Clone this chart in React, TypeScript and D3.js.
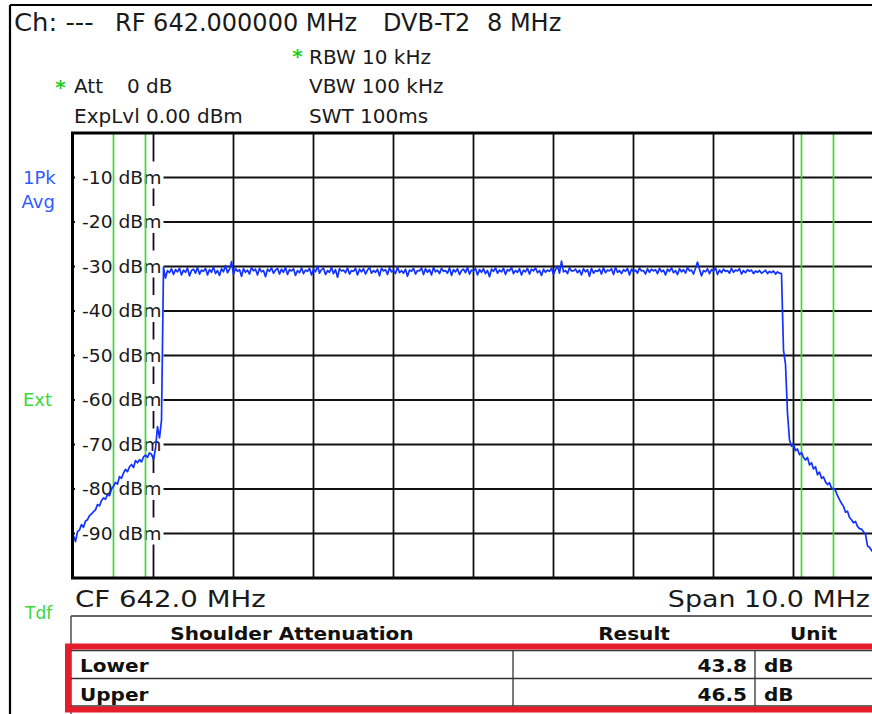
import React from 'react';
import * as d3 from 'd3';

const W = 872;
const H = 714;

// ---- data ----
const spanStartMHz = 637.0;
const spanEndMHz = 647.0;
const traceStepMHz = 0.025;
const refLevels = [0, -100];
const yTicks = [-10, -20, -30, -40, -50, -60, -70, -80, -90];
const yTickLabels = ['-10 dBm', '-20 dBm', '-30 dBm', '-40 dBm', '-50 dBm', '-60 dBm', '-70 dBm', '-80 dBm', '-90 dBm'];
const xGridMHz = [638, 639, 640, 641, 642, 643, 644, 645, 646];
const markerMHz = [637.5, 637.9, 646.1, 646.5];

const lowerSkirt = [
  -90.5, -91.8, -89.6, -89.2, -88.0, -88.6, -87.2, -86.9, -86.0, -85.6,
  -85.1, -84.7, -83.5, -83.8, -82.6, -82.0, -82.3, -81.2, -81.5, -80.0,
  -79.4, -78.5, -78.9, -77.2, -77.6, -76.4, -75.6, -76.1, -75.0, -74.5,
  -75.2, -73.6, -74.1, -73.4, -73.9, -72.8, -72.4, -72.9, -71.9, -72.2,
  -73.4, -70.9, -66.0, -68.5, -64.6,
];
const inBand = [
  -30.2, -32.6, -30.9, -31.4, -30.5, -31.8, -30.7, -31.2, -30.4, -31.9,
  -30.8, -31.3, -30.3, -32.1, -30.9, -30.6, -31.5, -30.2, -31.7, -30.8,
  -31.1, -30.4, -31.9, -30.7, -31.3, -30.1, -31.6, -30.9, -32.0, -30.5,
  -31.2, -29.8, -31.4, -30.6, -28.9, -31.8, -30.4, -31.1, -30.7, -32.2,
  -30.5, -31.3, -30.8, -31.7, -30.2, -31.0, -30.6, -31.9, -30.4, -31.2,
  -30.9, -32.3, -30.6, -31.1, -30.3, -31.5, -30.8, -30.4, -31.7, -30.6,
  -31.3, -30.2, -31.8, -30.7, -31.0, -30.5, -32.0, -30.9, -31.4, -30.3,
  -31.6, -30.8, -31.1, -30.4, -31.9, -30.6, -31.2, -29.9, -31.5, -30.7,
  -30.4, -31.8, -30.9, -31.3, -30.2, -31.6, -30.7, -32.4, -30.5, -31.0,
  -30.8, -31.4, -30.3, -31.7, -30.9, -31.1, -30.4, -31.9, -30.6, -31.2,
  -30.5, -31.7, -30.8, -30.2, -31.5, -30.9, -31.3, -30.6, -32.1, -30.4,
  -31.0, -30.7, -31.8, -30.3, -31.2, -30.8, -31.6, -30.1, -31.4, -30.9,
  -31.5, -30.6, -32.2, -30.8, -31.1, -30.4, -31.7, -30.9, -31.0, -30.3,
  -31.8, -30.5, -31.3, -30.7, -31.9, -30.2, -31.2, -30.8, -31.6, -30.4,
  -31.1, -30.9, -31.5, -30.3, -32.0, -30.7, -31.2, -30.5, -31.8, -30.9,
  -30.6, -31.4, -30.2, -31.7, -30.8, -31.0, -30.4, -31.9, -30.7, -31.3,
  -30.5, -31.6, -30.9, -32.3, -30.6, -31.1, -30.3, -31.5, -30.8, -31.2,
  -30.4, -31.8, -30.7, -31.0, -30.2, -31.6, -30.9, -31.3, -30.5, -31.9,
  -30.8, -31.2, -30.4, -31.7, -30.6, -31.0, -30.3, -31.4, -30.9, -32.0,
  -30.6, -31.3, -30.8, -31.1, -30.4, -31.8, -30.7, -29.9, -31.5, -28.8,
  -31.2, -30.9, -31.6, -30.3, -31.0, -31.0, -30.6, -31.4, -30.8, -31.9,
  -30.5, -31.2, -30.7, -32.2, -30.4, -31.5, -30.9, -31.1, -30.6, -31.7,
  -30.3, -31.4, -30.8, -31.0, -30.5, -31.8, -30.2, -31.3, -30.9, -31.6,
  -30.7, -31.1, -30.4, -31.9, -30.6, -31.2, -30.8, -31.5, -30.3, -31.0,
  -30.9, -31.7, -30.5, -31.3, -30.6, -31.0, -30.7, -31.6, -30.4, -31.2,
  -30.8, -31.9, -30.6, -31.1, -30.3, -31.4, -30.9, -31.8, -30.5, -31.2,
  -30.7, -31.5, -30.2, -31.0, -30.8, -31.7, -30.4, -29.0, -30.6, -32.1,
  -30.9, -31.2, -30.5, -31.6, -30.7, -31.0, -30.3, -31.8, -30.8, -31.4,
  -30.6, -31.1, -30.9, -31.5, -30.4, -31.3, -30.8, -31.0, -30.5, -31.7,
  -30.9, -31.4, -30.7, -31.1, -30.8, -31.6, -31.0, -31.3, -30.9, -31.5,
  -31.2, -30.8, -31.6, -31.1, -31.4, -31.0, -31.7, -31.2, -31.5, -31.6,
];
const upperSkirt = [
  -48.8, -52.0, -63.0, -69.0, -70.4, -70.0, -71.4, -71.0, -72.3, -71.8,
  -72.9, -73.5, -72.9, -74.6, -74.1, -75.5, -75.0, -76.8, -76.2, -77.6,
  -77.3, -78.4, -79.0, -78.6, -79.8, -79.9, -80.3, -81.5, -82.4, -83.2,
  -83.9, -85.2, -85.0, -86.4, -86.9, -87.6, -87.3, -88.4, -88.9, -89.0,
  -89.6, -90.2, -92.8, -93.1, -93.8, -94.3,
];
const traceLevels = [...lowerSkirt, ...inBand, ...upperSkirt];

const tableHeaders = ['Shoulder Attenuation', 'Result', 'Unit'];
const tableRows = ['Lower', 'Upper'];
const tableResults = ['43.8', '46.5'];
const tableUnits = ['dB', 'dB'];

// ---- layout ----
const PL = 73.5, PR = 873.5, PT = 133, PB = 578;
const FONT = 'DejaVu Sans, Verdana, sans-serif';
const BLUE_TRACE = '#1232ff';
const GREEN = '#3ad83a';

const ST = ({ x, y, sx = 1, children, ...rest }: any) => (
  <text transform={`translate(${x},${y}) scale(${sx},1)`} {...rest}>{children}</text>
);

export default function App() {
  const x = d3.scaleLinear().domain([spanStartMHz, spanEndMHz]).range([PL, PR]);
  const y = d3.scaleLinear().domain(refLevels).range([PT, PB]);
  const line = d3
    .line<number>()
    .x((_, i) => x(spanStartMHz + i * traceStepMHz))
    .y((d) => y(d));
  const tracePath = line(traceLevels) || '';

  const colX = [71, 513, 755, 872];
  const rowY = [616, 650.5, 678.5, 706];

  return (
    <svg
      width={W}
      height={H}
      viewBox={`0 0 ${W} ${H}`}
      style={{ position: 'absolute', left: 0, top: 0, display: 'block', background: '#fff' }}
      fontFamily={FONT}
    >
      <defs>
        <clipPath id="plotClip">
          <rect x={PL} y={PT} width={PR - PL} height={PB - PT} />
        </clipPath>
      </defs>
      <rect x={0} y={0} width={W} height={H} fill="#fff" />

      {/* outer frame */}
      <line x1={10} y1={5} x2={10} y2={H} stroke="#000" strokeWidth={2.2} />
      <line x1={10} y1={5} x2={W} y2={5} stroke="#000" strokeWidth={2.2} />

      {/* header */}
      <g fill="#1a1a1a">
        <ST x={14} y={31} sx={1.08} fontSize={24}>Ch: ---</ST>
        <text x={115} y={31} fontSize={24}>RF 642.000000 MHz</text>
        <text x={383} y={31} fontSize={24}>DVB-T2</text>
        <text x={487} y={31} fontSize={24}>8 MHz</text>

        <text x={309} y={64} fontSize={20}>RBW 10 kHz</text>
        <text x={74} y={93} fontSize={20}>Att</text>
        <text x={127} y={93} fontSize={20}>0 dB</text>
        <text x={309} y={93} fontSize={20}>VBW 100 kHz</text>
        <text x={74} y={123} fontSize={20}>ExpLvl 0.00 dBm</text>
        <text x={309} y={123} fontSize={20}>SWT 100ms</text>
      </g>
      <text x={297.5} y={63} fontSize={20} fontWeight="bold" fill="#22cc22" textAnchor="middle">*</text>
      <text x={60.5} y={94} fontSize={20} fontWeight="bold" fill="#22cc22" textAnchor="middle">*</text>

      {/* side labels */}
      <text x={23} y={184} fontSize={18} fill="#2f5bff">1Pk</text>
      <text x={21.5} y={208} fontSize={18} fill="#2f5bff">Avg</text>
      <text x={23} y={406} fontSize={18} fill={GREEN}>Ext</text>
      <text x={25} y={619} fontSize={17} fill={GREEN}>Tdf</text>

      {/* grid */}
      <g stroke="#111" strokeWidth={1.8}>
        {xGridMHz.map((f) => (
          <line key={`v${f}`} x1={x(f)} x2={x(f)} y1={PT} y2={PB} />
        ))}
        {yTicks.map((v) => (
          <line key={`h${v}`} x1={PL} x2={PR} y1={y(v)} y2={y(v)} />
        ))}
      </g>

      {/* level labels */}
      {yTicks.map((v, i) => (
        <g key={`l${v}`}>
          <rect x={PL + 1.5} y={y(v) - 16} width={163.5 - PL - 1.5} height={27} fill="#fff" />
          <ST x={82} y={y(v) + 6} sx={1.1} fontSize={17} fill="#1a1a1a">{yTickLabels[i]}</ST>
        </g>
      ))}

      {/* markers */}
      <g stroke={GREEN} strokeWidth={1.7}>
        {markerMHz.map((f) => (
          <line key={`m${f}`} x1={x(f)} x2={x(f)} y1={PT} y2={PB} />
        ))}
      </g>

      {/* trace */}
      <g clipPath="url(#plotClip)">
        <path d={tracePath} fill="none" stroke={BLUE_TRACE} strokeWidth={1.7} strokeLinejoin="round" />
      </g>

      {/* plot border */}
      <rect x={PL - 1} y={PT} width={PR - PL + 4} height={PB - PT} fill="none" stroke="#000" strokeWidth={3} />

      {/* bottom axis captions */}
      <ST x={75} y={607} sx={1.2} fontSize={23} fill="#1a1a1a">CF 642.0 MHz</ST>
      <ST x={870} y={607} sx={1.17} fontSize={23} fill="#1a1a1a" textAnchor="end">Span 10.0 MHz</ST>

      {/* table */}
      <g stroke="#333" strokeWidth={1.3}>
        <line x1={colX[0]} x2={W} y1={rowY[0]} y2={rowY[0]} />
        <line x1={colX[0]} x2={colX[0]} y1={rowY[0]} y2={H} />
        <line x1={colX[0]} x2={W} y1={rowY[1]} y2={rowY[1]} />
        <line x1={colX[0]} x2={W} y1={rowY[2]} y2={rowY[2]} />
        <line x1={colX[0]} x2={W} y1={rowY[3]} y2={rowY[3]} />
        <line x1={colX[1]} x2={colX[1]} y1={rowY[1]} y2={rowY[3]} />
        <line x1={colX[2]} x2={colX[2]} y1={rowY[1]} y2={rowY[3]} />
      </g>
      <g fontSize={17} fontWeight="bold" fill="#111">
        <ST x={(colX[0] + colX[1]) / 2} y={640} sx={1.18} textAnchor="middle">{tableHeaders[0]}</ST>
        <ST x={(colX[1] + colX[2]) / 2} y={640} sx={1.18} textAnchor="middle">{tableHeaders[1]}</ST>
        <ST x={(colX[2] + colX[3]) / 2} y={640} sx={1.18} textAnchor="middle">{tableHeaders[2]}</ST>
        {tableRows.map((r, i) => (
          <g key={r}>
            <ST x={80} y={672 + i * 29} sx={1.18}>{r}</ST>
            <ST x={747} y={672 + i * 29} sx={1.18} textAnchor="end">{tableResults[i]}</ST>
            <ST x={764} y={672 + i * 29} sx={1.18}>{tableUnits[i]}</ST>
          </g>
        ))}
      </g>
      <rect x={68} y={646.5} width={W} height={63} fill="none" stroke="#e51d2a" strokeWidth={6} />
    </svg>
  );
}
